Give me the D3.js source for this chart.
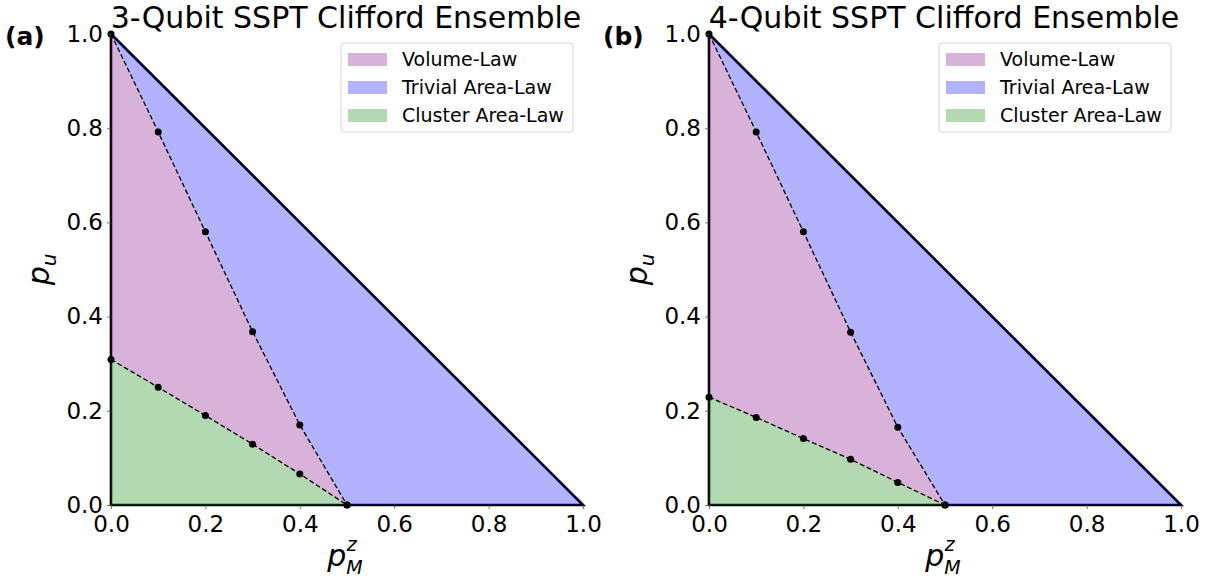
<!DOCTYPE html>
<html>
<head>
<meta charset="utf-8">
<script src="https://cdn.jsdelivr.net/npm/d3@7"></script>
<style>
  body { margin: 0; background: #fff; }
  text { font-family: "DejaVu Sans", sans-serif; }
</style>
</head>
<body>
<svg width="1211" height="580"></svg>
<script>
  // measurement probability p_M^z at which transitions were sampled
  const pmValues = [0, 0.1, 0.2, 0.3, 0.4, 0.5];

  // panel (a): 3 qubits
  const volumeA = [1.0, 0.792, 0.58, 0.368, 0.17, 0];
  const clusterA = [0.309, 0.25, 0.19, 0.129, 0.066, 0];

  // panel (b): 4 qubits
  const volumeB = [1.0, 0.792, 0.58, 0.367, 0.165, 0];
  const clusterB = [0.229, 0.186, 0.141, 0.097, 0.048, 0];

  const panelTitles = ['3-Qubit SSPT Clifford Ensemble', '4-Qubit SSPT Clifford Ensemble'];
  const panelTags = ['(a)', '(b)'];
  const tickValues = [0, 0.2, 0.4, 0.6, 0.8, 1.0];

  const legendLabels = ['Volume-Law', 'Trivial Area-Law', 'Cluster Area-Law'];
  const legendColors = ['#800080', '#0000ff', '#008000'];

  const svg = d3.select('svg');

  const panels = [
    { left: 111, volume: volumeA, cluster: clusterA },
    { left: 709, volume: volumeB, cluster: clusterB }
  ];
  const plotTop = 34, plotW = 472, plotH = 471;

  panels.forEach((p, k) => {
    const g = svg.append('g').attr('transform', `translate(${p.left},${plotTop})`);
    const x = d3.scaleLinear().domain([0, 1]).range([0, plotW]);
    const y = d3.scaleLinear().domain([0, 1]).range([plotH, 0]);
    const line = d3.line().x(d => x(d[0])).y(d => y(d[1]));

    const volPts = pmValues.map((v, i) => [v, p.volume[i]]);
    const cluPts = pmValues.map((v, i) => [v, p.cluster[i]]);

    // outline of the triangle, under the translucent fills
    g.append('path')
      .attr('d', line([[0, 1], [0, 0], [1, 0], [0, 1]]))
      .attr('fill', 'none')
      .attr('stroke', '#000')
      .attr('stroke-width', 2.6);

    // regions
    const greenPoly = cluPts.concat([[0, 0]]);
    const purplePoly = volPts.concat(cluPts.slice().reverse());
    const bluePoly = volPts.concat([[1, 0], [0, 1]]);
    [[purplePoly, legendColors[0]], [bluePoly, legendColors[1]], [greenPoly, legendColors[2]]]
      .forEach(([poly, c]) => {
        g.append('path').attr('d', line(poly) + 'Z')
          .attr('fill', c).attr('fill-opacity', 0.3).attr('stroke', 'none');
      });

    // dashed phase boundaries with markers
    [volPts, cluPts].forEach(pts => {
      g.append('path')
        .attr('d', line(pts))
        .attr('fill', 'none')
        .attr('stroke', '#000')
        .attr('stroke-width', 1.3)
        .attr('stroke-dasharray', '5,2.5');
      g.selectAll(null).data(pts).enter().append('circle')
        .attr('cx', d => x(d[0])).attr('cy', d => y(d[1]))
        .attr('r', 3.5).attr('fill', '#000');
    });

    // axes
    const xAxis = g.append('g').attr('transform', `translate(0,${plotH})`)
      .call(d3.axisBottom(x).tickValues(tickValues).tickFormat(d3.format('.1f')).tickSize(4).tickPadding(5));
    const yAxis = g.append('g')
      .call(d3.axisLeft(y).tickValues(tickValues).tickFormat(d3.format('.1f')).tickSize(4).tickPadding(4));
    [xAxis, yAxis].forEach(a => {
      a.select('.domain').remove();
      a.selectAll('.tick line').attr('stroke', '#555').attr('stroke-width', 0.8);
      a.selectAll('.tick text').attr('font-size', 23).attr('fill', '#000')
        .style('font-family', '"DejaVu Sans", sans-serif');
    });
    xAxis.selectAll('.tick text').attr('dy', '0.8em');

    // axis labels
    const xl = g.append('text')
      .attr('x', plotW / 2 - 2).attr('y', plotH + 61)
      .attr('text-anchor', 'middle').attr('font-size', 30).attr('font-style', 'italic');
    xl.append('tspan').text('p');
    xl.append('tspan').attr('font-size', 19).attr('dy', 8).text('M');
    xl.append('tspan').attr('font-size', 19).attr('dx', -16).attr('dy', -23).text('z');

    const yl = g.append('text')
      .attr('transform', `translate(-62,${plotH / 2}) rotate(-90)`)
      .attr('text-anchor', 'middle').attr('font-size', 30).attr('font-style', 'italic');
    yl.append('tspan').text('p');
    yl.append('tspan').attr('font-size', 20).attr('dy', 7).text('u');

    // title and tag
    g.append('text')
      .attr('x', plotW / 2 - 1).attr('y', -6)
      .attr('text-anchor', 'middle').attr('font-size', 30)
      .text(panelTitles[k]);
    g.append('text')
      .attr('x', -106).attr('y', 11)
      .attr('font-size', 25).attr('font-weight', 'bold')
      .text(panelTags[k]);

    // legend
    const lg = g.append('g').attr('transform', `translate(${plotW - 242},9)`);
    lg.append('rect')
      .attr('width', 232).attr('height', 89).attr('rx', 3)
      .attr('fill', '#fff').attr('fill-opacity', 0.8)
      .attr('stroke', '#d6d6d6').attr('stroke-width', 1);
    legendLabels.forEach((lab, i) => {
      const row = lg.append('g').attr('transform', `translate(7,${10 + i * 28})`);
      row.append('rect').attr('width', 39).attr('height', 13)
        .attr('fill', legendColors[i]).attr('fill-opacity', 0.3);
      row.append('text').attr('x', 54).attr('y', 13).attr('font-size', 19).text(lab);
    });
  });
</script>
</body>
</html>
